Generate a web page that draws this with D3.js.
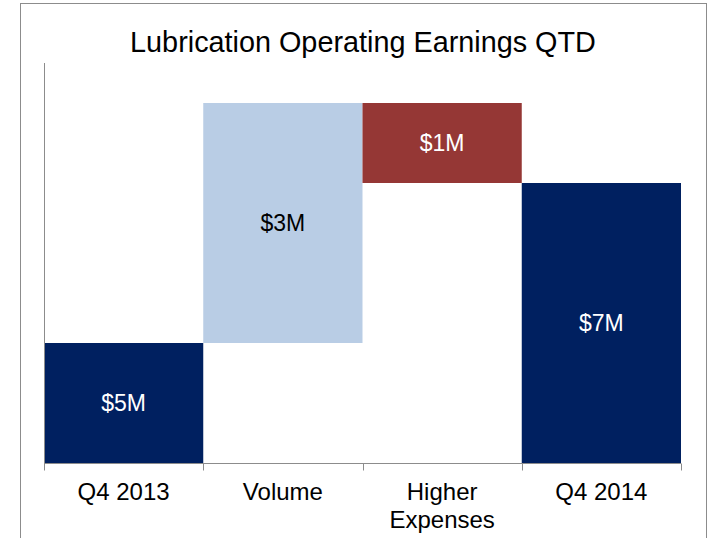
<!DOCTYPE html>
<html>
<head>
<meta charset="utf-8">
<script src="https://cdn.jsdelivr.net/npm/d3@7"></script>
<style>
  body { margin: 0; background: #fff; }
  svg { font-family: "Liberation Sans", Arial, sans-serif; }
</style>
</head>
<body>
<div id="chart"></div>
<script>
const svgWidth = 709,
    svgHeight = 538;

// waterfall data ($M)
const categories = ["Q4 2013", "Volume", "Higher Expenses", "Q4 2014"];
const amounts = [5, 3, -1, 7];
const kinds = ["total", "delta", "delta", "total"];
const valueLabels = ["$5M", "$3M", "$1M", "$7M"];
const yDomain = [3.5, 8.5];

const colors = { total: "#002060", up: "#b9cde5", down: "#953735" };

let svg = d3.select("#chart").append("svg")
    .attr("width", svgWidth)
    .attr("height", svgHeight);

// outer frame
svg.append("rect")
    .attr("x", 20.5).attr("y", 3.5)
    .attr("width", 686).attr("height", 560)
    .attr("fill", "none")
    .attr("stroke", "#8c8c8c");

// build floating bars
let running = 0;
let bars = categories.map((c, i) => {
    let b;
    if (kinds[i] === "total") {
        b = { lo: d3.min([0, amounts[i]]), hi: amounts[i] };
        running = amounts[i];
    } else {
        let next = running + amounts[i];
        b = { lo: Math.min(running, next), hi: Math.max(running, next) };
        running = next;
    }
    return { cat: c, kind: kinds[i], amount: amounts[i], label: valueLabels[i], ...b };
});

let x = d3.scaleBand()
    .domain(categories)
    .range([44, 681])
    .padding(0);
let y = d3.scaleLinear()
    .domain(yDomain)
    .range([463, 63]);

function fillFor(d) {
    if (d.kind === "total") return colors.total;
    return d.amount >= 0 ? colors.up : colors.down;
}

svg.append("g").selectAll("rect")
    .data(bars)
    .join("rect")
    .attr("x", d => x(d.cat))
    .attr("width", x.bandwidth())
    .attr("y", d => y(d.hi))
    .attr("height", d => y(Math.max(d.lo, yDomain[0])) - y(d.hi))
    .attr("fill", fillFor);

svg.append("g").selectAll("text")
    .data(bars)
    .join("text")
    .attr("x", d => x(d.cat) + x.bandwidth() / 2)
    .attr("y", d => (y(d.hi) + y(Math.max(d.lo, yDomain[0]))) / 2)
    .attr("dy", "0.35em")
    .attr("text-anchor", "middle")
    .attr("font-size", 23)
    .attr("fill", d => fillFor(d) === colors.up ? "#000" : "#fff")
    .text(d => d.label);

// y axis line (no ticks)
svg.append("line")
    .attr("x1", 44.5).attr("x2", 44.5)
    .attr("y1", y(yDomain[1])).attr("y2", y(yDomain[0]))
    .attr("stroke", "#8c8c8c");

// x axis with ticks at band edges
let xAxis = svg.append("g")
    .attr("transform", "translate(0,463.5)");
xAxis.append("line")
    .attr("x1", 44).attr("x2", 681)
    .attr("stroke", "#8c8c8c");
let edges = categories.map(c => x(c)).concat([x(categories[categories.length - 1]) + x.bandwidth()]);
xAxis.selectAll(".tick")
    .data(edges)
    .join("line")
    .attr("class", "tick")
    .attr("x1", d => Math.round(d) + 0.5).attr("x2", d => Math.round(d) + 0.5)
    .attr("y1", 0).attr("y2", 7)
    .attr("stroke", "#8c8c8c");

xAxis.selectAll(".lbl")
    .data(categories)
    .join("text")
    .attr("class", "lbl")
    .attr("x", d => x(d) + x.bandwidth() / 2)
    .attr("y", 36)
    .attr("text-anchor", "middle")
    .attr("font-size", 24)
    .attr("fill", "#000")
    .each(function (d) {
        let words = d === "Higher Expenses" ? ["Higher", "Expenses"] : [d];
        d3.select(this).selectAll("tspan")
            .data(words)
            .join("tspan")
            .attr("x", x(d) + x.bandwidth() / 2)
            .attr("dy", (w, i) => i === 0 ? 0 : 28)
            .text(w => w);
    });

// title
svg.append("text")
    .attr("x", 363)
    .attr("y", 52)
    .attr("text-anchor", "middle")
    .attr("font-size", 28.8)
    .attr("fill", "#000")
    .text("Lubrication Operating Earnings QTD");
</script>
</body>
</html>
